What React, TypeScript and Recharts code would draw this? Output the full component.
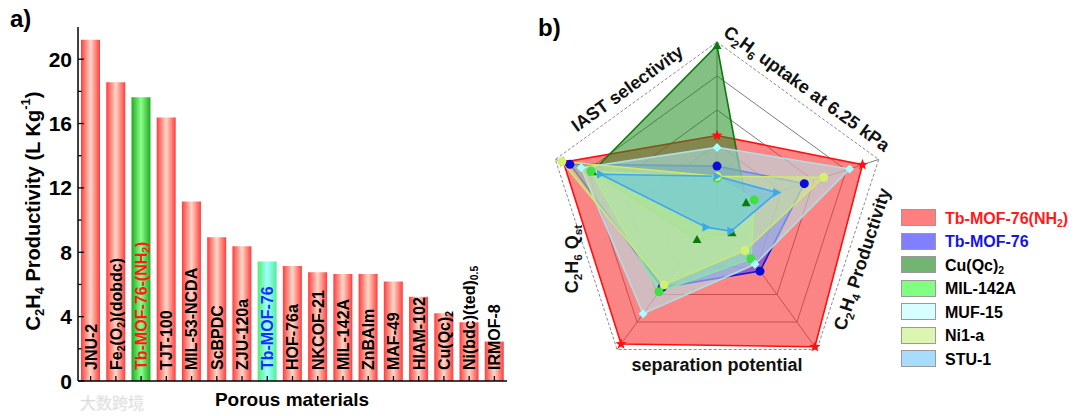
import React from 'react';
import {
  BarChart,
  Bar,
  XAxis,
  YAxis,
  LabelList,
  Cell,
  RadarChart,
  Radar,
  PolarGrid,
  PolarAngleAxis,
  PolarRadiusAxis,
} from 'recharts';

const FONT = 'Arial, "Liberation Sans", Helvetica, sans-serif';

// ---- panel a: C2H4 productivity ----
const materials = [
  'JNU-2',
  'Fe_{2}(O_{2})(dobdc)',
  'Tb-MOF-76-(NH_{2})',
  'TJT-100',
  'MIL-53-NCDA',
  'ScBPDC',
  'ZJU-120a',
  'Tb-MOF-76',
  'HOF-76a',
  'NKCOF-21',
  'MIL-142A',
  'ZnBAIm',
  'MAF-49',
  'HIAM-102',
  'Cu(Qc)_{2}',
  'Ni(bdc)(ted)_{0.5}',
  'IRMOF-8',
];
const productivity = [
  21.2, 18.57, 17.64, 16.37, 11.15, 8.93, 8.37, 7.42, 7.15, 6.76, 6.65, 6.65, 6.18, 5.24, 4.21,
  3.65, 2.45,
];
const yTicks = [0, 2, 4, 6, 8, 10, 12, 14, 16, 18, 20];
const yMajor = [0, 4, 8, 12, 16, 20];

// ---- panel b: radar ----
const radarAxes = [
  'C_{2}H_{6} uptake at 6.25 kPa',
  'C_{2}H_{4} Productivity',
  'separation potential',
  'C_{2}H_{6} Q_{st}',
  'IAST selectivity',
];
const tbNH2 = [0.45, 0.9, 0.98, 0.96, 0.95];
const tbMOF = [0.27, 0.54, 0.43, 0.55, 0.91];
const cuQc = [0.98, 0.18, 0.15, 0.2, 0.77];
const mil142 = [0.2, 0.23, 0.34, 0.58, 0.78];
const muf15 = [0.38, 0.82, 0.38, 0.74, 0.84];
const ni1a = [0.21, 0.66, 0.28, 0.53, 0.96];
const stu1 = [0.21, 0.37, 0.14, 0.11, 0.72];

const barData = materials.map((name, i) => ({ name, value: productivity[i] }));

const SERIES = [
  { key: 'tbNH2', name: 'Tb-MOF-76(NH_{2})', values: tbNH2, fill: '#f83434', op: 0.6, stroke: '#ff1010', marker: 'star', mfill: '#ff1010', legend: '#ff7f7f', text: '#ff1a1a' },
  { key: 'tbMOF', name: 'Tb-MOF-76', values: tbMOF, fill: '#3a3aff', op: 0.5, stroke: '#1515e0', marker: 'circle', mfill: '#0c0cd8', legend: '#8080ff', text: '#1414e6' },
  { key: 'cuQc', name: 'Cu(Qc)_{2}', values: cuQc, fill: '#1f8a1f', op: 0.55, stroke: '#0a7a0a', marker: 'tri', mfill: '#0a7a0a', legend: '#72b472', text: '#000' },
  { key: 'mil142', name: 'MIL-142A', values: mil142, fill: '#5cf05c', op: 0.55, stroke: '#50e050', marker: 'circle', mfill: '#40e040', legend: '#80ff80', text: '#000' },
  { key: 'muf15', name: 'MUF-15', values: muf15, fill: '#b0e8ee', op: 0.55, stroke: '#b4dce4', marker: 'diamond', mfill: '#a8ffff', legend: '#d8ffff', text: '#000' },
  { key: 'ni1a', name: 'Ni1-a', values: ni1a, fill: '#d4f28a', op: 0.5, stroke: '#cce870', marker: 'circle', mfill: '#d4f070', legend: '#dcf5b0', text: '#000' },
  { key: 'stu1', name: 'STU-1', values: stu1, fill: '#58bdf2', op: 0.5, stroke: '#3ca8f0', marker: 'triR', mfill: '#3ca8f0', legend: '#a8dcff', text: '#000' },
];

const radarData = radarAxes.map((axis, i) => {
  const row: Record<string, string | number> = { axis };
  SERIES.forEach((s) => (row[s.key] = s.values[i]));
  return row;
});

// text with _{sub} and ^{sup}
function rich(s: string, size: number) {
  const parts = s.split(/(_\{[^}]*\}|\^\{[^}]*\})/).filter(Boolean);
  let shift = 0;
  return parts.map((p, i) => {
    if (p.startsWith('_{') || p.startsWith('^{')) {
      const d = p[0] === '_' ? size * 0.3 : -size * 0.38;
      const el = (
        <tspan key={i} dy={d - shift} fontSize={size * 0.65}>
          {p.slice(2, -1)}
        </tspan>
      );
      shift = d;
      return el;
    }
    const el = (
      <tspan key={i} dy={-shift} fontSize={size}>
        {p}
      </tspan>
    );
    shift = 0;
    return el;
  });
}

const AXIS_X = 78;
const PLOT_BOTTOM = 381;

const YTick = (props: any) => {
  const { y, payload } = props;
  const major = yMajor.includes(payload.value);
  return (
    <g>
      <line x1={AXIS_X} x2={AXIS_X + (major ? 6 : 3.5)} y1={y} y2={y} stroke="#000" strokeWidth={1.3} />
      {major && (
        <text x={AXIS_X - 6} y={y} textAnchor="end" dominantBaseline="central" fontSize={21} fontWeight="bold" fontFamily={FONT} fill="#000">
          {payload.value}
        </text>
      )}
    </g>
  );
};

const XTick = (props: any) => (
  <line x1={props.x} x2={props.x} y1={PLOT_BOTTOM} y2={PLOT_BOTTOM - 5} stroke="#000" strokeWidth={1.3} />
);

const BarLabel = (props: any) => {
  const vb = props.viewBox ?? props;
  const { x, y, width, height } = vb;
  const name = String(props.value);
  const cx = x + width / 2;
  const by = y + height - 11;
  const color = name === 'Tb-MOF-76-(NH_{2})' ? '#ff1a1a' : name === 'Tb-MOF-76' ? '#1430ff' : '#000';
  return (
    <text x={cx} y={by} transform={`rotate(-90 ${cx} ${by})`} textAnchor="start" dominantBaseline="central" fontSize={16} fontWeight="bold" fontFamily={FONT} fill={color}>
      {rich(name, 16)}
    </text>
  );
};

const barFill = (name: string) =>
  name === 'Tb-MOF-76-(NH_{2})' ? 'url(#gGreen)' : name === 'Tb-MOF-76' ? 'url(#gCyan)' : 'url(#gRed)';

// radar geometry
const R_CX = 177;
const R_CY = 212;
const R_OUT = 170;
const RAD = Math.PI / 180;

const RadarTick = (props: any) => {
  const { payload } = props;
  const ang = payload.coordinate - 36;
  const d = R_OUT * Math.cos(36 * RAD) + 15;
  const x = R_CX + d * Math.cos(-ang * RAD);
  const y = R_CY + d * Math.sin(-ang * RAD);
  let rot = ((((90 - ang) % 360) + 540) % 360) - 180;
  if (rot > 90) rot -= 180;
  else if (rot <= -135) rot += 180;
  else if (rot < -90) rot = -90;
  return (
    <text x={x} y={y} transform={`rotate(${rot} ${x} ${y})`} textAnchor="middle" dominantBaseline="central" fontSize={18} fontWeight="bold" fontFamily={FONT} fill="#111">
      {rich(String(payload.value), 18)}
    </text>
  );
};

function Marker({ cx, cy, type, fill }: { cx: number; cy: number; type: string; fill: string }) {
  const r = 4.5;
  if (type === 'circle') return <circle cx={cx} cy={cy} r={r} fill={fill} />;
  if (type === 'diamond')
    return <path d={`M${cx},${cy - r} L${cx + r},${cy} L${cx},${cy + r} L${cx - r},${cy} Z`} fill={fill} />;
  if (type === 'tri')
    return <path d={`M${cx},${cy - r} L${cx + r},${cy + r * 0.8} L${cx - r},${cy + r * 0.8} Z`} fill={fill} />;
  if (type === 'triR')
    return <path d={`M${cx + r},${cy} L${cx - r * 0.8},${cy - r} L${cx - r * 0.8},${cy + r} Z`} fill={fill} />;
  const pts: string[] = [];
  for (let k = 0; k < 10; k++) {
    const rr = k % 2 === 0 ? r * 1.3 : r * 0.55;
    const a = (-90 + k * 36) * RAD;
    pts.push(`${cx + rr * Math.cos(a)},${cy + rr * Math.sin(a)}`);
  }
  return <polygon points={pts.join(' ')} fill={fill} />;
}

export default function App() {
  return (
    <div style={{ position: 'absolute', left: 0, top: 0, width: 1080, height: 416, background: '#fff', fontFamily: FONT }}>
      <svg width={0} height={0} style={{ position: 'absolute' }}>
        <defs>
          <linearGradient id="gRed" x1="0" x2="1" y1="0" y2="0">
            <stop offset="0%" stopColor="#ff3d3d" />
            <stop offset="50%" stopColor="#ffd8c8" />
            <stop offset="100%" stopColor="#ff3d3d" />
          </linearGradient>
          <linearGradient id="gGreen" x1="0" x2="1" y1="0" y2="0">
            <stop offset="0%" stopColor="#1faa1f" />
            <stop offset="50%" stopColor="#8cff8c" />
            <stop offset="100%" stopColor="#1faa1f" />
          </linearGradient>
          <linearGradient id="gCyan" x1="0" x2="1" y1="0" y2="0">
            <stop offset="0%" stopColor="#50ee70" />
            <stop offset="50%" stopColor="#a0ffff" />
            <stop offset="100%" stopColor="#50ee98" />
          </linearGradient>
        </defs>
      </svg>

      <div style={{ position: 'absolute', left: 0, top: 0 }}>
        <BarChart width={540} height={416} data={barData} margin={{ top: 27, right: 33, bottom: 0, left: 0 }} barSize={19}>
          <XAxis dataKey="name" height={35} interval={0} tick={XTick} tickLine={false} axisLine={{ stroke: '#000', strokeWidth: 1.5 }} />
          <XAxis xAxisId="top" dataKey="name" orientation="top" height={0} tick={false} tickLine={false} axisLine={{ stroke: '#000', strokeWidth: 1.5 }} />
          <YAxis width={78} domain={[0, 22]} ticks={yTicks} interval={0} tick={YTick} tickLine={false} axisLine={{ stroke: '#000', strokeWidth: 1.5 }} />
          <YAxis yAxisId="right" orientation="right" width={0} domain={[0, 22]} tick={false} tickLine={false} axisLine={{ stroke: '#000', strokeWidth: 1.5 }} />
          <Bar dataKey="value" barSize={19} isAnimationActive={false}>
            {barData.map((d) => (
              <Cell key={d.name} fill={barFill(d.name)} />
            ))}
            <LabelList dataKey="name" content={BarLabel} />
          </Bar>
        </BarChart>
      </div>

      <div style={{ position: 'absolute', left: 540, top: 0 }}>
        <RadarChart width={540} height={416} data={radarData} cx={R_CX} cy={R_CY} outerRadius={R_OUT} margin={{ top: 0, right: 0, bottom: 0, left: 0 }}>
          <PolarGrid gridType="polygon" polarRadius={[34, 68, 102, 136]} stroke="#5a5a5a" strokeWidth={0.8} />
          <PolarGrid gridType="polygon" polarRadius={[170]} radialLines={false} stroke="#8a8a8a" strokeWidth={1} strokeDasharray="3 2" />
          <PolarAngleAxis dataKey="axis" tick={RadarTick} tickLine={false} axisLine={false} />
          <PolarRadiusAxis domain={[0, 1]} tick={false} axisLine={false} />
          {SERIES.map((s) => (
            <Radar
              key={s.key}
              dataKey={s.key}
              name={s.name}
              fill={s.fill}
              fillOpacity={s.op}
              stroke={s.stroke}
              strokeWidth={1.6}
              isAnimationActive={false}
              dot={(p: any) => <Marker key={`${s.key}-${p.index}`} cx={p.cx} cy={p.cy} type={s.marker} fill={s.mfill} />}
            />
          ))}
        </RadarChart>
      </div>

      <div style={{ position: 'absolute', left: 901, top: 209, display: 'flex', flexDirection: 'column', gap: 6.5 }}>
        {SERIES.map((s) => (
          <div key={s.key} style={{ display: 'flex', alignItems: 'center', height: 17 }}>
            <div style={{ width: 33, height: 15, background: s.legend, border: '1px solid #9a9a9a' }} />
            <svg width={140} height={22} style={{ marginLeft: 9 }}>
              <text x={0} y={11} dominantBaseline="central" fontSize={16} fontWeight="bold" fontFamily={FONT} fill={s.text}>
                {rich(s.name, 16)}
              </text>
            </svg>
          </div>
        ))}
      </div>

      <svg width={1080} height={416} style={{ position: 'absolute', left: 0, top: 0, pointerEvents: 'none' }}>
        <text x={10} y={27} fontSize={24} fontWeight="bold" fontFamily={FONT}>a)</text>
        <text x={538} y={36} fontSize={24} fontWeight="bold" fontFamily={FONT}>b)</text>
        <text x={33} y={211} transform="rotate(-90 33 211)" textAnchor="middle" dominantBaseline="central" fontSize={20} fontWeight="bold" fontFamily={FONT}>
          {rich('C_{2}H_{4} Productivity (L Kg^{-1})', 20)}
        </text>
        <text x={292} y={399} textAnchor="middle" dominantBaseline="central" fontSize={19} fontWeight="bold" fontFamily={FONT}>
          Porous materials
        </text>
        <text x={80} y={409} fontSize={16} fontFamily={'"Noto Sans CJK SC", sans-serif'} fill="#d4d4d4" stroke="#eeeeee" strokeWidth={0.5}>
          大数跨境
        </text>
      </svg>
    </div>
  );
}
